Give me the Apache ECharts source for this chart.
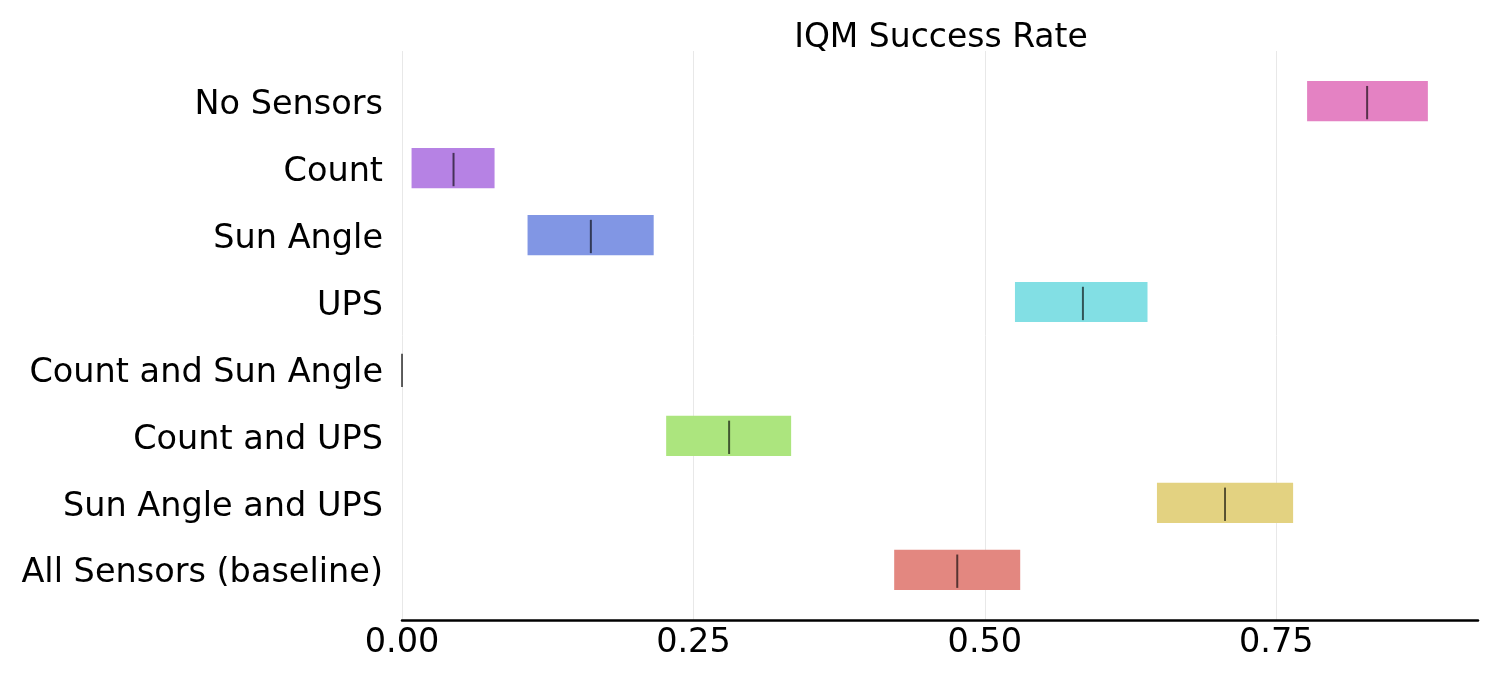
<!DOCTYPE html>
<html>
<head>
<meta charset="utf-8">
<script src="https://cdn.jsdelivr.net/npm/echarts@6/dist/echarts.min.js"></script>
<style>html,body{margin:0;padding:0;background:#fff}#c{width:1500px;height:680px}</style>
</head>
<body>
<div id="c"></div>
<script>
const categories = ['No Sensors','Count','Sun Angle','UPS','Count and Sun Angle','Count and UPS','Sun Angle and UPS','All Sensors (baseline)'];
const lowerCI  = [0.7764, 0.0082, 0.1077, 0.5258, 0.0, 0.2266, 0.6476, 0.4222];
const upperCI  = [0.8800, 0.0794, 0.2159, 0.6395, 0.0, 0.3338, 0.7644, 0.5303];
const medians  = [0.8279, 0.0442, 0.1620, 0.5841, 0.0, 0.2806, 0.7060, 0.4763];
const barColors = ['#e482c3','#b682e4','#8196e4','#82dfe4','#e3d281','#ace57e','#e3d281','#e38780'];
const xTicks = [0, 0.25, 0.5, 0.75];

const FONT = 'DejaVu Sans';
const chart = echarts.init(document.getElementById('c'));
const data = categories.map((c, i) => ({
  value: [lowerCI[i], upperCI[i], medians[i], i],
  itemStyle: { color: barColors[i] }
}));

chart.setOption({
  animation: false,
  backgroundColor: '#fff',
  title: {
    text: 'IQM Success Rate',
    left: 936, top: 17, textAlign: 'center',
    textStyle: { fontFamily: FONT, fontSize: 33, fontWeight: 'normal', color: '#000' }
  },
  grid: { left: 402, right: 22, top: 51, bottom: 60, containLabel: false },
  xAxis: {
    type: 'value', min: 0, max: 0.923, interval: 0.25,
    axisLine: { show: true, onZero: false, lineStyle: { color: '#000', width: 2.5 } },
    axisTick: { show: false },
    axisLabel: {
      fontFamily: FONT, fontSize: 33.5, color: '#000', margin: 6,
      showMaxLabel: false,
      formatter: v => xTicks.some(t => Math.abs(t - v) < 1e-9) ? v.toFixed(2) : ''
    },
    splitLine: { show: true, showMaxLine: false, lineStyle: { color: '#e8e8e8', width: 1 } }
  },
  yAxis: {
    type: 'value', inverse: true, min: -0.75, max: 7.75, interval: 0.25,
    axisLine: { show: false, onZero: false }, axisTick: { show: false }, splitLine: { show: false },
    axisLabel: {
      fontFamily: FONT, fontSize: 33.5, color: '#000', margin: 19,
      formatter: v => (Math.abs(v - Math.round(v)) < 1e-9 && v >= 0 && v < categories.length) ? '{a|' + categories[Math.round(v)] + '}' : '',
      rich: { a: { fontFamily: FONT, fontSize: 33.5, color: '#000', padding: [8, 0, 0, 0] } }
    }
  },
  series: [{
    type: 'custom',
    clip: false,
    data: data,
    encode: { x: [0, 1, 2], y: 3 },
    renderItem: (params, api) => {
      const yi = api.value(3);
      const lo = api.coord([api.value(0), yi]);
      const hi = api.coord([api.value(1), yi]);
      const md = api.coord([api.value(2), yi]);
      const h = api.size([0, 0.6])[1];
      const children = [];
      if (hi[0] - lo[0] > 0.1) {
        children.push({
          type: 'rect',
          shape: { x: lo[0], y: lo[1] - h / 2, width: hi[0] - lo[0], height: h },
          style: { fill: api.visual('color') }
        });
      }
      children.push({
        type: 'line',
        shape: { x1: md[0], y1: md[1] - h * 0.38, x2: md[0], y2: md[1] + h * 0.45 },
        style: { stroke: 'rgba(0,0,0,0.62)', lineWidth: 2 }
      });
      return { type: 'group', children: children };
    }
  }]
});
</script>
</body>
</html>
